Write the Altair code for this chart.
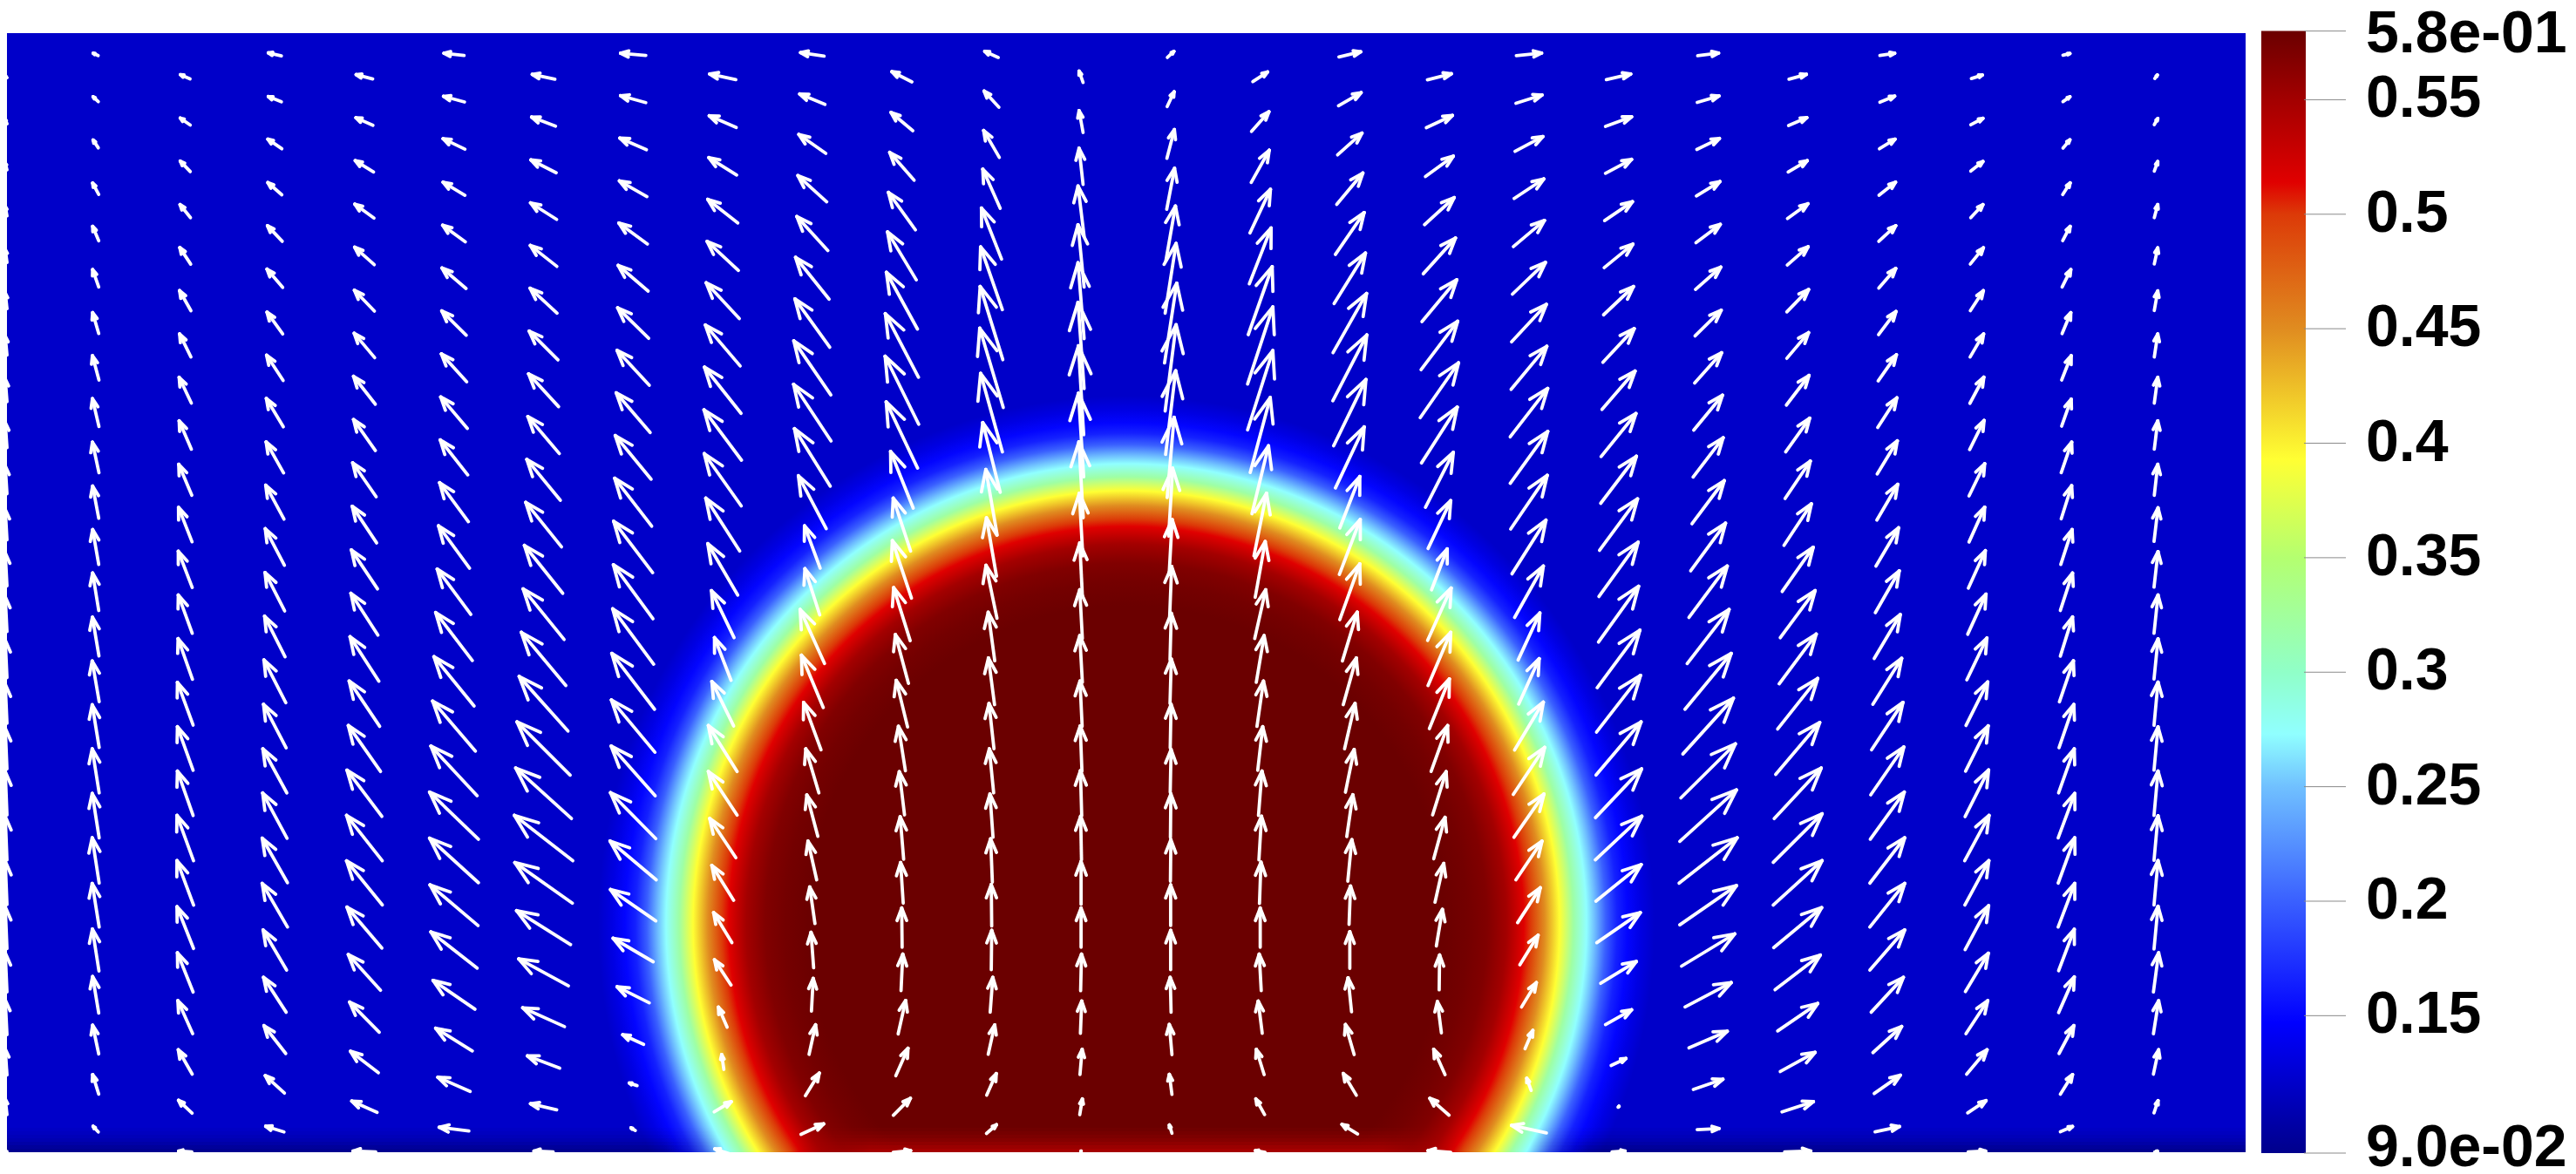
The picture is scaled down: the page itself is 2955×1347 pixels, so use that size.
import altair as alt
import pandas as pd

# ---- colour bar ----
CMAP_VALUES = [0.09, 0.147, 0.20, 0.25, 0.273, 0.30, 0.35, 0.393, 0.45, 0.50, 0.514, 0.55, 0.58]
CMAP_COLORS = ["#00008c", "#0000ff", "#3a60ff", "#70c0ff", "#90ffff", "#90ffc8", "#b4ff70",
               "#ffff33", "#e08c20", "#dc3a08", "#e00000", "#a30000", "#6b0000"]
TICK_VALUES = [0.58, 0.55, 0.5, 0.45, 0.4, 0.35, 0.3, 0.25, 0.2, 0.15, 0.09]
TICK_LABELS = ["5.8e-01", "0.55", "0.5", "0.45", "0.4", "0.35", "0.3", "0.25", "0.2", "0.15", "9.0e-02"]
LABEL_VALUES = [0.5785, 0.55, 0.5, 0.45, 0.4, 0.35, 0.3, 0.25, 0.2, 0.15, 0.0918]

# ---- scalar field: radial profile of the disk ----
DISK_X, DISK_Y, DISK_OUTER = 1292, 1060, 620
RING_RADIUS = [0, 365, 392, 414, 436, 456, 464, 480, 497, 513, 528, 537, 550, 563, 575, 590, 606, 620]
RING_VALUE = [0.58, 0.58, 0.575, 0.568, 0.55, 0.514, 0.5, 0.45, 0.393, 0.32, 0.273, 0.25, 0.2, 0.165, 0.15, 0.133, 0.12, 0.12]
BACKGROUND = 0.12

# ---- glyphs: one list per column, top row first; U to the right, V upward, in px ----
U_00 = [-2] * 25
V_00 = [2,5,8,11,15,18,22,26,29,32,35,38,40,43,45,47,50,50,50,48,45,40,30,18,0]
U_01 = [-5.7,-6,-6,-7,-7,-7,-7,-7.5,-7.5,-7.5,-7,-7,-7,-7.5,-8,-8,-8,-8,-8,-8,-7.5,-7,-7,-7,-6]
V_01 = [2.6,5.6,9,13,16.5,20,24,28,32,35,37,40,43,44.5,46.6,49,50.5,51,52,50,48,42,33,22.5,6.5]
U_02 = [-11,-11.5,-11.5,-12,-12.5,-13,-13,-14,-14,-15,-15.5,-16,-16,-16.5,-18,-18,-18,-19,-19,-19,-18,-17,-16,-15.5,-15]
V_02 = [4.8,8,12,15,19,23,26.5,29.5,32.5,35.5,39.5,41.6,44,46.6,49,50,51,52,51,48,45,38,28,14.7,1]
U_03 = [-15,-15,-16,-16,-17,-18,-18,-19,-19.5,-20,-21,-22,-22.5,-23.5,-25,-26,-27.5,-28,-29,-29,-27,-26,-25,-22,-21]
V_03 = [3.5,6,11,14,18,21,25,29,32.5,35.5,39,42,44,46.6,49,50,50.5,52,51,50,46,40,32,20,6.5]
U_04 = [-19,-19.5,-21,-22,-22.5,-23,-23.5,-25,-25,-27,-28,-30,-31,-33,-35,-37,-40,-41,-41,-40,-37,-34,-32,-29,-26]
V_04 = [5,8.7,13,16,20,24,28,32,35.5,39,42,44.7,48,51,52,52.7,53,52,50.5,47,41,34.5,24.6,13,1]
U_05 = [-23,-24,-25,-25,-26,-27.5,-28,-29,-30.5,-31.5,-33,-35.6,-38.5,-42,-46,-49,-53,-56,-56,-55,-53,-48,-42,-37,-34]
V_05 = [2.6,6.5,12,15,19,23.5,27.8,32,36,40,44.7,48.6,52,55,56.5,57.4,57,54,51,46.6,41.5,33,26,16.4,4.3]
U_06 = [-26,-27.5,-29,-30,-30.5,-31,-33,-34.5,-36,-38.5,-41,-44,-47,-51,-56,-61,-64,-67,-66,-62,-57,-48,-37,-30,-22]
V_06 = [5.6,10.4,14.7,19,24,28.6,33,37.7,42.5,46.8,51,55,58,61,62.6,61,58,52,46.6,39,31,21.6,14,7,1]
U_07 = [-29,-29,-30.5,-31.6,-32.7,-34.4,-35.6,-37,-39,-41,-42.5,-44.8,-45.4,-47,-49,-50,-50.5,-52,-53,-52,-46,-37,-24,-9,-5]
V_07 = [2.6,8,13.4,18,24,29.5,35,40,45.5,50,55,59,62,63.5,64,60,57,52.7,44.5,36,27,18.5,11,3,3]
U_08 = [-30,-31,-32,-34.4,-36,-38,-40,-42,-43,-42.5,-39,-34.4,-26,-19,-25,-33,-33,-30,-25,-21,-19,-10,-2.5,19.5,-18]
V_08 = [6.5,13.4,20,27,33.4,41,47,53,57.7,60,60.7,59,54,49,51,52.7,50,45,40,34.5,29,23,17,11.7,6]
U_09 = [-27,-29,-31,-33,-35.6,-38.5,-40,-42.5,-43,-41,-32,-18,-17,-28,-25,-20,-15,-12.6,-10,-6,-3,2,7.5,16,26]
V_09 = [4,12,21.7,30,39,48,55.5,62,65,66,60.7,48.6,53,62,60,54.4,50.5,47.5,44.5,42,40.6,37.6,34,26,12]
U_10 = [-23,-25,-28,-31,-33,-35.6,-38,-38.5,-36,-26,-20,-22,-19,-15,-13,-8,-6,-4,-3,-0.5,2,8.6,14,19.5,20]
V_10 = [11.7,21,32,43,55,65,73,78,76,65,60.7,66,61,56,53.5,51,49.6,48.8,46.6,45,42,38.4,31.5,19.4,2]
U_11 = [-15.5,-17,-18,-20,-23,-25,-26,-27,-25,-20,-13,-11.5,-12.6,-7.5,-7,-5.7,-5,-3.5,-2,-0.5,0.5,3,7.5,11,11.5]
V_11 = [7,18.6,31,45,58.5,72,84,91,90,80,75,67,60.7,55.7,53.5,51.8,50.5,49.6,49.6,47.5,45,40,33.7,24.6,10]
U_12 = [-4.6,-4.6,-4.6,-7,-7,-7,-7,-6,-6,-5,-4,-3,-3,-3,-2.5,-2,-1.5,-1,0,0,1,1.5,2.5,3,0]
V_12 = [13,25,41.6,57.7,71.5,87,99,102,96,87,72,60.7,56,53.5,52,51.8,51.8,50,49,45,42,37,29,18,1]
U_13 = [7.5,8,8.6,9,11,12.6,14,12.6,11.5,8,4.6,3.5,2.3,1.5,1.5,1,1,0.5,0.5,0,0,-1,-3,-3,-3]
V_13 = [7,17,33,47,63,80,91.5,99,96,92,78,63,58,53.5,51,50,49,50,47.5,46.6,45,40,34.5,23,9.5]
U_14 = [17,20,20.7,23.5,25,27.5,29,29,23,19,14.4,11.5,12.6,9,7.5,5.7,4,3,1.7,0,-2.3,-4.6,-9,-10,-11]
V_14 = [11,22.5,37,50,64,78,88.5,91,86,78,72,64,56,53.5,52,50,51,50,47.5,45,42,37,29,18,2]
U_15 = [25,26,28,30,33,36,38.5,39,37,33,23,24,23,17,15,12,10,7,4.6,1.7,0,-4,-10,-15,-18]
V_15 = [6,15,25,36,48,58,68,75.5,76,70,59,63,64,56,53.5,52,49,48,47.5,44,42,39,34.5,25,11]
U_16 = [27.5,30,32,34,37,40,42,44,41,32,26,18,27,26,23,19,15.5,13,10,7,0.5,-4.6,-13,-22,-26]
V_16 = [7,14,23.4,31,41,48,55.5,63,64,63,55,47,60,61,57,52.7,49.6,47.5,44.5,42,40,36,29,19.4,2]
U_17 = [29,30,32,34,35.6,38,40,41,43,43,42,39,33,25,23.5,33,36,34.4,30,26,21,17,9,-5,-40]
V_17 = [3,9.5,17,22.5,30,36.4,43,49.4,55.5,59.4,61.6,61.6,59,54,52,55,54,49.6,44.5,40,34,28,21,14,8.6]
U_18 = [28,30,30,32,33,34.4,36,38,40,41,43.6,45,46,49,50.5,51.7,53,53.4,52,50,41,30,17,1,15]
V_18 = [6.5,11,16,21.7,27,32.5,38.6,44,49.4,54,59,62.4,64,66,65,61,56,50,42,34.5,25,17,8,1,1]
U_19 = [24,25,26,27,28,29,30,31,33,34.4,37,40,44,48,53,58,62.6,65,66.6,65,61,53,44,34,25]
V_19 = [3,7.4,12.6,16.5,21,25.6,29.5,34.7,40,45,49.4,54.6,59,62,64,64,62,59,52,45,37,28,19,11.7,1.3]
U_20 = [20,21,22,23.5,24,25,25,26,27.5,29,31.5,35.6,40,42.5,46,50.5,54,56,56,55,52,46,40,36,30]
V_20 = [5.6,9,13,17,21,25.6,29.5,34,38.6,43,47.7,50.7,54,57,58,59.6,58,55.7,51,45.8,39.7,31.5,22,11.7,1]
U_21 = [17,17,18,19,19.5,19.5,20,21,22,23,24,26,27.5,30,33,36,38,39,40,40,40,37,33,30,28]
V_21 = [2.6,7,11,15,18,22.5,26.5,30,34,38,41,44,48,50.5,52.7,54.4,55,54,52,50,46,40,30,21,6]
U_22 = [12.6,14,14,14,15,15,15.5,16,16.6,18,18,19.5,21,23,25,26,27,28,27.5,27,26.4,25,23.5,21,20]
V_22 = [4,7.4,11,15,18.6,23,26.5,30,33.4,37,40,43,46,48,50,52,53.5,52,51,50.5,44,38,28,14,1]
U_23 = [8,8,8,8.6,8.6,10,10,11,11,12,12,13,14,14,16,17,18,19,19,19,18,18,17,14,14]
V_23 = [2,5.6,9.5,13.4,16.5,20,24,28,31,35,38,40,43,45,47,49.6,50.5,51,52,50,47.5,41,32,22.5,6]
U_24 = [3,4,4,4,4,4,4,4,4,4,4.6,4.6,4.6,4.6,4.6,4.6,4.6,4.6,4.6,4.6,6,6,6,4.6,3]
V_24 = [4,7,11,15,18.6,22.5,26.5,29.5,32.5,35.5,38.6,40.8,44,46,49.6,49.6,51,51,51,49,45,38,28,14,1]

U_COLUMNS = [U_00,U_01,U_02,U_03,U_04,U_05,U_06,U_07,U_08,U_09,U_10,U_11,U_12,U_13,U_14,U_15,U_16,U_17,U_18,U_19,U_20,U_21,U_22,U_23,U_24]
V_COLUMNS = [V_00,V_01,V_02,V_03,V_04,V_05,V_06,V_07,V_08,V_09,V_10,V_11,V_12,V_13,V_14,V_15,V_16,V_17,V_18,V_19,V_20,V_21,V_22,V_23,V_24]

COLUMN_STEP = 102.76
ROW_STEP = 51.38
HEAD_RATIO = 0.32
HEAD_SPREAD = 0.384      # tan(21 deg)

# ---- geometry of the picture, in page pixels ----
LEFT, RIGHT, TOP, BOTTOM = 8, 2576, 38, 1322
BAR_LEFT, BAR_RIGHT = 2594, 2645
TICK_LEFT, TICK_RIGHT, LABEL_X = 2643, 2691, 2714

# darker / lighter strip along the bottom wall: rows of (top, bottom, strength)
WALL_ROWS = [(1294, 1298, 0.08), (1298, 1302, 0.18), (1302, 1306, 0.30), (1306, 1310, 0.44),
             (1310, 1314, 0.62), (1314, 1318, 0.82), (1318, 1322, 1.0)]


def hex_to_rgb(h):
    return [int(h[i:i + 2], 16) for i in (1, 3, 5)]


def value_to_color(v):
    for i in range(len(CMAP_VALUES) - 1):
        a, b = CMAP_VALUES[i], CMAP_VALUES[i + 1]
        if a <= v <= b:
            t = (v - a) / (b - a)
            c0, c1 = hex_to_rgb(CMAP_COLORS[i]), hex_to_rgb(CMAP_COLORS[i + 1])
            return "#%02x%02x%02x" % tuple(round(p + (q - p) * t) for p, q in zip(c0, c1))
    return CMAP_COLORS[-1]


xs = alt.Scale(domain=[LEFT, RIGHT], nice=False, zero=False)
ys = alt.Scale(domain=[BOTTOM, TOP], nice=False, zero=False)
X = alt.X("x:Q", scale=xs, axis=None)
Y = alt.Y("y:Q", scale=ys, axis=None)
X2 = alt.X2("x2:Q")
Y2 = alt.Y2("y2:Q")


def box(x, x2, y, y2):
    return pd.DataFrame({"x": [x], "x2": [x2], "y": [y], "y2": [y2]})


def rect(x, x2, y, y2, fill):
    return alt.Chart(box(x, x2, y, y2)).mark_rect(fill=fill, clip=True).encode(x=X, x2=X2, y=Y, y2=Y2)


def horizontal(stops):
    return alt.LinearGradient(
        gradient="linear", x1=0, y1=0, x2=1, y2=0,
        stops=[alt.GradientStop(offset=o, color=c) for o, c in stops])


back = rect(LEFT, RIGHT, TOP, BOTTOM, value_to_color(BACKGROUND))

disk_fill = alt.RadialGradient(
    gradient="radial", x1=0.5, y1=0.5, r1=0, x2=0.5, y2=0.5, r2=0.5,
    stops=[alt.GradientStop(offset=r / DISK_OUTER, color=value_to_color(v))
           for r, v in zip(RING_RADIUS, RING_VALUE)])
disk = rect(DISK_X - DISK_OUTER, DISK_X + DISK_OUTER, DISK_Y - DISK_OUTER, DISK_Y + DISK_OUTER, disk_fill)

wall = []
for top, bottom, s in WALL_ROWS:
    dk = "rgba(0,0,0,%.3f)" % (0.28 * s)
    clear = "rgba(0,0,0,0)"
    rd = "rgba(165,0,0,%.3f)" % s
    rd0 = "rgba(165,0,0,0)"
    wall.append(rect(LEFT, 830, top, bottom, horizontal([(0, dk), (0.92, dk), (1, clear)])))
    wall.append(rect(1755, RIGHT, top, bottom, horizontal([(0, clear), (0.08, dk), (1, dk)])))
    wall.append(rect(905, 1680, top, bottom, horizontal([(0, rd0), (0.12, rd), (0.88, rd), (1, rd0)])))

segments = []
for k, (us, vs_) in enumerate(zip(U_COLUMNS, V_COLUMNS)):
    cx = 7 + COLUMN_STEP * k
    first = 62.4 if k % 2 else 88.1
    for m, (u, v) in enumerate(zip(us, vs_)):
        cy = first + ROW_STEP * m
        dy = -v
        tail = (cx - u / 2, cy - dy / 2)
        tip = (cx + u / 2, cy + dy / 2)
        bx = tip[0] - u * HEAD_RATIO
        by = tip[1] - dy * HEAD_RATIO
        px, py = -dy * HEAD_RATIO * HEAD_SPREAD, u * HEAD_RATIO * HEAD_SPREAD
        for start, end in ((tail, tip), ((bx + px, by + py), tip), ((bx - px, by - py), tip)):
            segments.append({"x": start[0], "y": start[1], "x2": end[0], "y2": end[1]})

arrows = alt.Chart(pd.DataFrame(segments)).mark_rule(
    color="white", strokeWidth=3.8, strokeCap="round", clip=True
).encode(x=X, x2=X2, y=Y, y2=Y2)

field = alt.layer(back, disk, *wall, arrows)

# colour bar: its own y scale runs on the scalar values
vs = alt.Scale(domain=[CMAP_VALUES[0], CMAP_VALUES[-1]], range=[1323 - TOP, 35.6 - TOP], nice=False, zero=False)
span = CMAP_VALUES[-1] - CMAP_VALUES[0]
bar_fill = alt.LinearGradient(
    gradient="linear", x1=0, y1=1, x2=0, y2=0,
    stops=[alt.GradientStop(offset=(v - CMAP_VALUES[0]) / span, color=c)
           for v, c in zip(CMAP_VALUES, CMAP_COLORS)])
VY = alt.Y("v:Q", scale=vs, axis=None)
bar = alt.Chart(pd.DataFrame({"x": [BAR_LEFT], "x2": [BAR_RIGHT], "v": [CMAP_VALUES[0]], "v2": [CMAP_VALUES[-1]]})).mark_rect(
    fill=bar_fill).encode(x=X, x2=X2, y=VY, y2=alt.Y2("v2:Q"))
ticks_df = pd.DataFrame({"v": TICK_VALUES, "x": [TICK_LEFT] * len(TICK_VALUES), "x2": [TICK_RIGHT] * len(TICK_VALUES)})
labels_df = pd.DataFrame({"v": LABEL_VALUES, "label": TICK_LABELS, "x": [LABEL_X] * len(TICK_VALUES)})
ticks = alt.Chart(ticks_df).mark_rule(color="#8a8a8a", strokeWidth=1).encode(x=X, x2=X2, y=VY)
labels = alt.Chart(labels_df).mark_text(
    align="left", baseline="alphabetic", dy=20, font="Liberation Sans", fontWeight="bold",
    fontSize=68, color="black"
).encode(x=X, y=VY, text="label:N")
colorbar = alt.layer(bar, ticks, labels)

chart = alt.layer(field, colorbar).resolve_scale(y="independent").properties(
    width=RIGHT - LEFT, height=BOTTOM - TOP,
    autosize=alt.AutoSizeParams(type="none"),
    padding={"left": 0, "top": TOP - 8, "right": 2947 - RIGHT, "bottom": 1339 - BOTTOM},
).configure_view(stroke=None)

chart.save("out.html", embed_options={"renderer": "svg", "actions": False})
